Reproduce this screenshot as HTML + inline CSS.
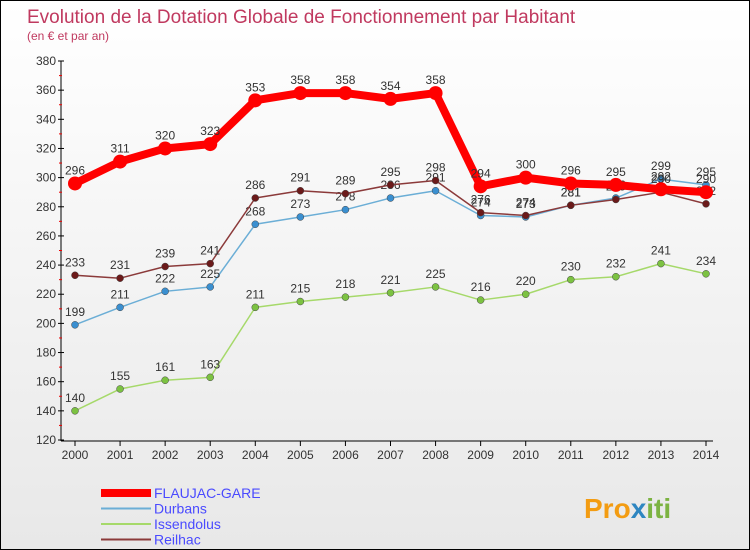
<!DOCTYPE html>
<html><head><meta charset="utf-8"><style>
body{margin:0;}
#c{width:748px;height:548px;border:1px solid #000;background:linear-gradient(#fff,#e8e8e8);position:relative;font-family:"Liberation Sans",sans-serif;overflow:hidden}
</style></head><body>
<div id="c">
<svg id="s" width="748" height="548" xmlns="http://www.w3.org/2000/svg">
<text x="26" y="22" font-size="19" fill="#c0395f">Evolution de la Dotation Globale de Fonctionnement par Habitant</text>
<text x="26" y="39" font-size="12" fill="#c0395f">(en € et par an)</text>
<g id="axes"></g><g id="series"></g><g id="legend"></g>
<text x="583" y="517" font-size="28" font-weight="bold" fill="#f39c12">Pro<tspan fill="#2e86c1">x</tspan><tspan fill="#7cb342">iti</tspan></text>
</svg></div>
<script>
const years=[2000,2001,2002,2003,2004,2005,2006,2007,2008,2009,2010,2011,2012,2013,2014];
const yTicks=[120,140,160,180,200,220,240,260,280,300,320,340,360,380];
const flaujac=[296,311,320,323,353,358,358,354,358,294,300,296,295,292,290];
const durbans=[199,211,222,225,268,273,278,286,291,274,273,281,286,299,295];
const issendolus=[140,155,161,163,211,215,218,221,225,216,220,230,232,241,234];
const reilhac=[233,231,239,241,286,291,289,295,298,276,274,281,285,290,282];
const NS="http://www.w3.org/2000/svg";
const X=i=>74+i*(631/14), Y=v=>439-(v-120)*(379/260);
function mk(t,a,p){const e=document.createElementNS(NS,t);for(const k in a)e.setAttribute(k,a[k]);p.appendChild(e);return e;}
const ax=document.getElementById('axes');
let e=mk('line',{x1:60,y1:60,x2:60,y2:440,stroke:'#000'},ax);

e=mk('line',{x1:60,y1:440,x2:712,y2:440,stroke:'#000'},ax);

yTicks.forEach((v,i)=>{mk('line',{x1:57,y1:Y(v),x2:63,y2:Y(v),stroke:'#000'},ax);
 if(i<yTicks.length-1)mk('line',{x1:58,y1:Y(v+10),x2:61,y2:Y(v+10),stroke:'#e00'},ax);
 const t=mk('text',{x:55,y:Y(v)+4,'font-size':12,'text-anchor':'end',fill:'#333'},ax);t.textContent=v;
 });
years.forEach((y,i)=>{mk('line',{x1:X(i),y1:440,x2:X(i),y2:445,stroke:'#000'},ax);
 const t=mk('text',{x:X(i),y:458,'font-size':12,'text-anchor':'middle',fill:'#333'},ax);t.textContent=y;
 });
const sg=document.getElementById('series');
function draw(vals,col,w,r,name,dot){const g=mk('g',{},sg);
 
 const p=mk('polyline',{points:vals.map((v,i)=>X(i)+','+Y(v)).join(' '),fill:'none',stroke:col,'stroke-width':w,'stroke-linejoin':'round'},g);
 
 vals.forEach((v,i)=>{const c=mk('circle',{cx:X(i),cy:Y(v),r:r,fill:dot,stroke:'#444','stroke-width':w>3?0:0.5},g);
  
  const t=mk('text',{x:X(i),y:Y(v)-9,'font-size':12,'text-anchor':'middle',fill:'#333'},g);t.textContent=v;
  });}
draw(issendolus,'#a6d96a',1.5,3.5,'issendolus','#7cc242');
draw(durbans,'#6baed6',1.5,3.5,'durbans','#3a8fd0');
draw(reilhac,'#8b3a3a',1.5,3.5,'reilhac','#6b1a1a');
draw(flaujac,'#f00',8,7,'flaujac-gare','#f00');
const lg=document.getElementById('legend');
[['FLAUJAC-GARE','#f00',8],['Durbans','#6baed6',2],['Issendolus','#a6d96a',2],['Reilhac','#8b3a3a',2]].forEach((d,i)=>{
 const y=492+i*15.5;const g=mk('g',{},lg);
 
 mk('line',{x1:100,y1:y,x2:150,y2:y,stroke:d[1],'stroke-width':d[2]},g);
 const t=mk('text',{x:153,y:y+5,'font-size':14,fill:'#4a4aff'},g);t.textContent=d[0];});
</script></body></html>
